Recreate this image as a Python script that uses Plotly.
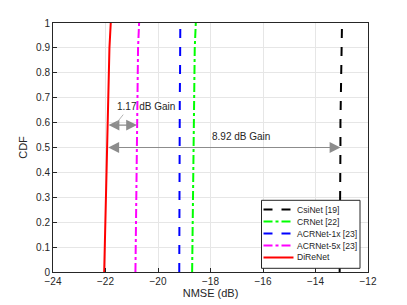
import plotly.graph_objects as go

cdf = [0, 0.1, 0.2, 0.3, 0.4, 0.5, 0.6, 0.7, 0.8, 0.9, 1.0]
csinet = [-13.08, -13.07, -13.07, -13.06, -13.06, -13.05, -13.05, -13.04, -13.03, -13.02, -12.99]
crnet = [-18.70, -18.69, -18.68, -18.67, -18.66, -18.65, -18.64, -18.63, -18.62, -18.60, -18.56]
acr1x = [-19.19, -19.19, -19.18, -19.18, -19.18, -19.17, -19.17, -19.17, -19.16, -19.16, -19.15]
acr5x = [-20.86, -20.85, -20.84, -20.83, -20.82, -20.81, -20.80, -20.79, -20.78, -20.76, -20.72]
direnet = [-22.05, -22.03, -22.01, -21.99, -21.97, -21.95, -21.93, -21.91, -21.88, -21.85, -21.80]

names = ["CsiNet [19]", "CRNet [22]", "ACRNet-1x [23]", "ACRNet-5x [23]", "DiReNet"]
series = [csinet, crnet, acr1x, acr5x, direnet]
colors = ["#000000", "#00ff00", "#0000ff", "#ff00ff", "#ff0000"]
dashes = ["dash", "dashdot", "dash", "dashdot", "solid"]

xticks = [-24, -22, -20, -18, -16, -14, -12]
yticks = [0, 0.1, 0.2, 0.3, 0.4, 0.5, 0.6, 0.7, 0.8, 0.9, 1]
ytick_text = ["0", "0.1", "0.2", "0.3", "0.4", "0.5", "0.6", "0.7", "0.8", "0.9", "1"]

gain1 = {"y": 0.59, "x0": -21.94, "x1": -20.80, "label": "1.17 dB Gain", "tx": -20.45, "ty": 0.665}
gain2 = {"y": 0.50, "x0": -21.95, "x1": -13.05, "label": "8.92 dB Gain", "tx": -16.85, "ty": 0.545}

# page body has an 8px margin, so figure coords = window coords - 8
OFF = 8
W, H = 407 - OFF, 305 - OFF
ML, MT = 53 - OFF, 23 - OFF
PW, PH = 315, 249
MR, MB = W - ML - PW, H - MT - PH

def px(xp):
    return (xp - 53) / PW

def py(yp):
    return (23 + PH - yp) / PH

fig = go.Figure()
for n, s, c, d in zip(names, series, colors, dashes):
    fig.add_trace(go.Scatter(x=s, y=cdf, mode="lines", name=n, showlegend=False,
                             line=dict(color=c, dash=d, width=2)))

arrow_col = "#8c8c8c"
for g in (gain1, gain2):
    fig.add_annotation(x=g["x1"], y=g["y"], ax=g["x0"], ay=g["y"], xref="x", yref="y",
                       axref="x", ayref="y", text="", showarrow=True, arrowhead=2,
                       arrowside="end+start", arrowsize=1.8, arrowwidth=1.2,
                       arrowcolor=arrow_col)
    fig.add_annotation(x=g["tx"], y=g["ty"], xref="x", yref="y", text=g["label"],
                       showarrow=False, font=dict(size=10, color="#262626"))

fig.add_annotation(x=-21.62, y=0.593, ax=-21.28, ay=0.638, xref="x", yref="y",
                   axref="x", ayref="y", text="", showarrow=True, arrowhead=0,
                   arrowwidth=0.8, arrowcolor="#a0a0a0")

# manual legend (MATLAB style compact box)
fig.add_shape(type="rect", xref="paper", yref="paper",
              x0=px(261.5), x1=px(360), y0=py(268.3), y1=py(200.3),
              line=dict(color="#262626", width=1), fillcolor="white", layer="above")
row_y = [209.5, 221.5, 233.5, 245.5, 257.5]
for n, c, d, ry in zip(names, colors, dashes, row_y):
    fig.add_shape(type="line", xref="paper", yref="paper",
                  x0=px(263.5), x1=px(293.5), y0=py(ry), y1=py(ry),
                  line=dict(color=c, dash=d, width=2), layer="above")
    fig.add_annotation(x=px(294.5), y=py(ry), xref="paper", yref="paper", text=n,
                       showarrow=False, xanchor="left", yanchor="middle",
                       font=dict(size=8.6, color="#262626"))

axis_common = dict(showline=True, linecolor="#262626", linewidth=1, mirror=True,
                   showgrid=True, gridcolor="#e6e6e6", gridwidth=1, zeroline=False,
                   ticks="inside", ticklen=4, tickcolor="#262626", automargin=False,
                   tickfont=dict(size=10, color="#262626"))

fig.update_layout(
    width=W, height=H,
    margin=dict(l=ML, r=MR, t=MT, b=MB),
    paper_bgcolor="white", plot_bgcolor="white",
    font=dict(family="Liberation Sans, Arial, sans-serif", color="#262626"),
    xaxis=dict(range=[-24, -12], tickvals=xticks,
               title=dict(text="NMSE (dB)", font=dict(size=11), standoff=3), **axis_common),
    yaxis=dict(range=[0, 1], tickvals=yticks, ticktext=ytick_text,
               title=dict(text="CDF", font=dict(size=11), standoff=6), **axis_common),
    showlegend=False,
)

fig.write_html("out.html")
